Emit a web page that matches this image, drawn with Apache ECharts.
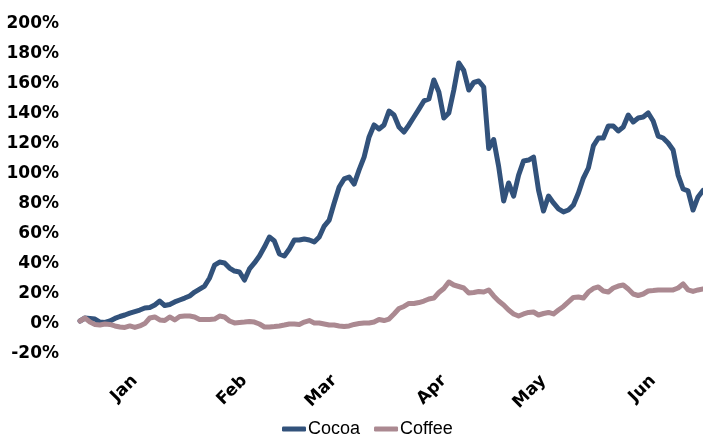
<!DOCTYPE html>
<html>
<head>
<meta charset="utf-8">
<script src="https://cdn.jsdelivr.net/npm/echarts@6/dist/echarts.min.js"></script>
<style>
html,body{margin:0;padding:0;background:#fff;}
#chart{width:703px;height:439px;}
</style>
</head>
<body>
<div id="chart"></div>
<script>
// Trading-day index (category axis)
const days = Array.from({length: 126}, (_, i) => String(i));
// Month label positions (category index) and names
const monthTicks = [11, 33, 51, 73, 93, 115];
const monthNames = ['Jan', 'Feb', 'Mar', 'Apr', 'May', 'Jun'];
// Y axis range (%)
const yMin = -20, yMax = 200, yStep = 20;

const cocoa = [
  0, 2, 1.7, 1.3, -0.7, -1, 0, 1.7, 3, 4,
  5.3, 6.3, 7.3, 8.7, 9, 10.7, 13.3, 10.3, 11, 12.7,
  14, 15.3, 16.7, 19.3, 21.3, 23.3, 28.7, 37.3, 39.3, 38.7,
  35.3, 33.3, 32.7, 27.3, 34.7, 38.7, 43.3, 49.3, 56, 53.3,
  44.7, 43.3, 48, 54, 54, 54.7, 54, 52.7, 56, 63.3,
  67.3, 78.7, 89.3, 94.7, 96, 91.3, 100.7, 109.3, 122.7, 130.7,
  128, 130.7, 140, 137.3, 129.3, 126, 130.7, 136, 141.3, 146.7,
  148, 160.7, 152.7, 135.3, 138.7, 154, 172, 167, 154, 159,
  160, 156, 115, 121, 103, 80, 92, 83.3, 97.3, 106.7,
  107.3, 109.3, 87.3, 73.3, 83.3, 78.7, 74.7, 72.7, 74, 77.3,
  85.3, 95.3, 102, 116.7, 122, 122, 130, 130, 126.7, 129.3,
  137.3, 132.7, 135.3, 136, 138.7, 133.3, 123.3, 122, 118.7, 114,
  97.3, 88, 86.7, 74, 82.7, 87
];

const coffee = [
  0, 2, -0.7, -2.3, -2.7, -2, -2.3, -3.3, -4, -4.3,
  -3.3, -4.3, -3.3, -1.7, 2, 2.7, 0.7, 0.3, 2.7, 0.7,
  3, 3.3, 3.3, 2.7, 1, 1, 1, 1.3, 3.3, 2.7,
  0, -1.3, -1, -0.7, -0.3, -0.7, -2, -4, -4, -3.7,
  -3.3, -2.7, -2, -2, -2.3, -0.7, 0.3, -1.3, -1.3, -2,
  -2.7, -2.7, -3.3, -3.7, -3.3, -2.3, -1.7, -1.3, -1.3, -0.7,
  1, 0.3, 1.3, 4.7, 8.3, 9.7, 11.7, 11.7, 12.3, 13.3,
  14.7, 15.3, 19, 21.7, 26, 24, 23, 22, 18.7, 19,
  19.7, 19.3, 20.7, 16.7, 13.3, 10.7, 7.3, 4.7, 3.3, 4.7,
  5.7, 6, 4, 5, 5.7, 4.7, 7.3, 9.7, 12.7, 15.7,
  16, 15.3, 19.3, 21.7, 22.7, 20, 19.3, 22, 23.3, 24,
  21.3, 18, 17, 18, 20, 20.3, 20.7, 20.7, 20.7, 20.7,
  22, 24.7, 20.7, 19.7, 20.7, 21.3
];

const chart = echarts.init(document.getElementById('chart'), null, {renderer: 'canvas'});
const labelFont = {fontFamily: 'DejaVu Sans', fontWeight: 'bold', fontSize: 17, color: '#000'};
chart.setOption({
  animation: false,
  grid: {left: 80, top: 21, width: 625, height: 330, containLabel: false},
  legend: {
    top: 415,
    left: 277,
    icon: 'roundRect',
    itemWidth: 24,
    itemHeight: 5,
    itemGap: 14,
    textStyle: {fontFamily: 'Liberation Sans', fontSize: 18, color: '#000', padding: [0, 0, 0, -3]},
    data: ['Cocoa', 'Coffee']
  },
  xAxis: {
    type: 'category',
    data: days,
    boundaryGap: false,
    axisLine: {show: false, onZero: false},
    axisTick: {show: false},
    splitLine: {show: false},
    axisLabel: Object.assign({}, labelFont, {
      rotate: 45,
      margin: 27,
      interval: (idx) => monthTicks.indexOf(idx) >= 0,
      formatter: (v, idx) => monthNames[monthTicks.indexOf(idx)]
    })
  },
  yAxis: {
    type: 'value',
    min: yMin,
    max: yMax,
    interval: yStep,
    axisLine: {show: false},
    axisTick: {show: false},
    splitLine: {show: false},
    axisLabel: {
      margin: 21,
      formatter: (v) => '{t|' + v + '%}',
      rich: {t: Object.assign({}, labelFont, {padding: [6, 0, 0, 0]})}
    }
  },
  series: [
    {
      name: 'Cocoa', type: 'line', data: cocoa, symbol: 'none', smooth: false,
      lineStyle: {color: '#32527B', width: 5, join: 'round', cap: 'round'},
      itemStyle: {color: '#32527B'}
    },
    {
      name: 'Coffee', type: 'line', data: coffee, symbol: 'none', smooth: false,
      lineStyle: {color: '#AB8991', width: 5, join: 'round', cap: 'round'},
      itemStyle: {color: '#AB8991'}
    }
  ]
});
</script>
</body>
</html>
